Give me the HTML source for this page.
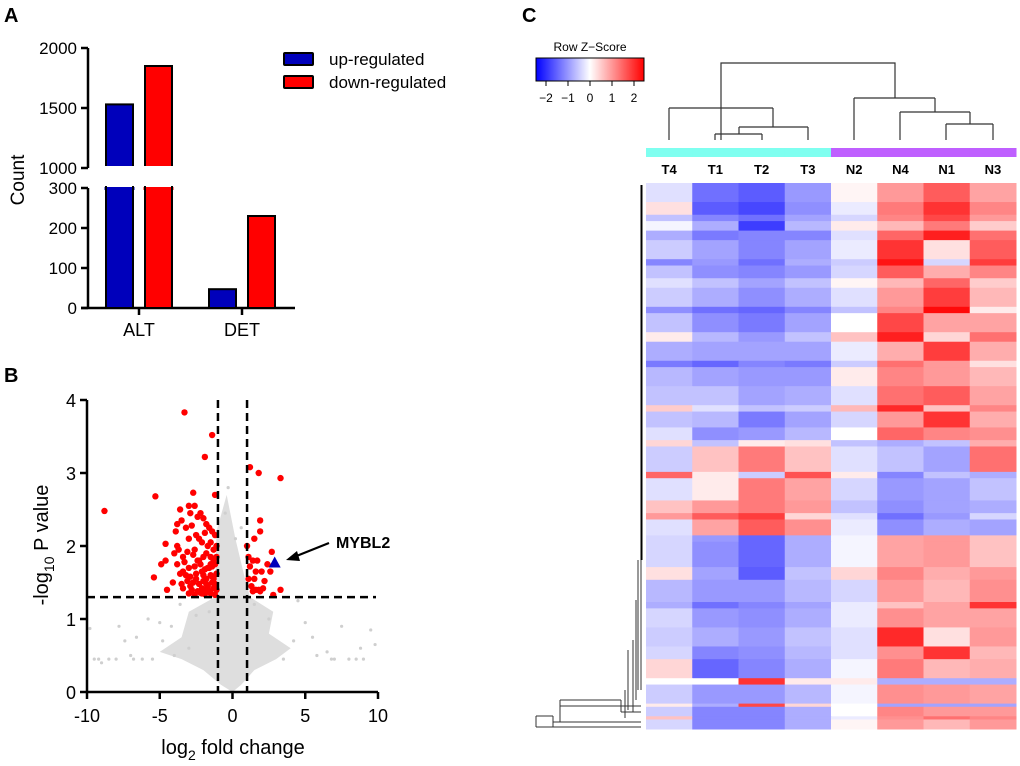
<!DOCTYPE html>
<html><head><meta charset="utf-8"><style>
body{margin:0;background:#fff;}
svg{display:block;font-family:"Liberation Sans",Arial,sans-serif;}
</style></head><body>
<svg id="fig" width="1020" height="766" viewBox="0 0 1020 766">
<g id="A"></g>
<g id="B"></g>
<g id="C"></g>
</svg>
<script>
// ---------- Panel A data ----------
const barCategories = ["ALT", "DET"];
const upValues = [1530, 47];
const downValues = [1850, 230];
const upperTicks = [1000, 1500, 2000];
const lowerTicks = [0, 100, 200, 300];

// ---------- Panel B data ----------
const xTicks = [-10, -5, 0, 5, 10];
const yTicks = [0, 1, 2, 3, 4];
const fcThresholds = [-1, 1];
const pThreshold = 1.3;
const redX = [-8.8,-3.3,-1.4,-1.9,-5.3,-2.7,-1.2,1.2,1.8,3.3,1.9,1.9,1.5,1.0,2.7,2.4,1.1,1.4,1.7,1.2,1.6,2.0,2.6,1.1,1.5,2.2,1.3,1.6,1.8,2.1,3.3,1.4,2.8,1.9,
 -5.4,-4.9,-4.6,-4.6,-4.5,-3.8,-3.6,-3.0,-2.9,-2.6,-2.4,-2.2,-2.0,-1.8,-1.6,-1.4,-1.2,
 -3.9,-3.5,-3.2,-2.8,-2.5,-2.3,-2.1,-1.9,-1.7,-1.5,-1.3,-1.1,
 -4.0,-3.7,-3.4,-3.1,-2.7,-2.4,-2.0,-1.8,-1.5,-1.3,-1.1,
 -3.8,-3.3,-3.0,-2.6,-2.2,-1.9,-1.6,-1.4,-1.2,
 -3.6,-3.2,-2.9,-2.5,-2.1,-1.8,-1.5,-1.3,-1.1,
 -4.1,-3.5,-3.1,-2.7,-2.3,-2.0,-1.7,-1.4,-1.2,
 -3.4,-2.8,-2.4,-2.1,-1.8,-1.6,-1.3,-1.1,
 -3.0,-2.6,-2.2,-1.9,-1.5,-1.2,
 -3.8,-3.4,-3.0,-2.6,-2.3,-2.0,-1.7,-1.5,-1.3,-1.1,
 -2.9,-2.5,-2.1,-1.8,-1.6,-1.4,-1.2];
const redY = [2.48,3.83,3.52,3.22,2.68,2.73,2.70,3.08,3.00,2.93,2.35,2.20,2.10,2.00,1.92,1.75,1.85,1.80,1.80,1.72,1.65,1.65,1.65,1.55,1.55,1.52,1.45,1.40,1.40,1.42,1.40,1.38,1.33,1.38,
 1.57,1.75,1.80,2.03,1.40,2.30,2.50,2.55,2.45,2.55,2.40,2.45,2.38,2.30,2.25,2.20,2.15,
 2.20,2.35,2.25,2.28,2.15,2.10,2.05,2.18,2.00,2.05,1.95,2.00,
 1.90,1.95,1.85,1.92,1.88,1.80,1.85,1.90,1.85,1.80,1.85,
 1.75,1.78,1.70,1.72,1.75,1.68,1.70,1.72,1.75,
 1.62,1.60,1.58,1.62,1.65,1.55,1.60,1.58,1.62,
 1.50,1.48,1.52,1.50,1.48,1.52,1.45,1.50,1.48,
 1.42,1.40,1.38,1.42,1.40,1.38,1.42,1.40,
 1.35,1.33,1.36,1.34,1.35,1.33,
 2.00,1.65,2.10,1.95,1.80,1.60,1.70,1.75,1.55,1.62,
 1.45,1.55,1.35,1.48,1.38,1.58,1.45];
const grayEnvX = [0,-0.8,-2,-3.5,-5,-3.5,-3,-1.2,-1.1,-0.4,0.2,0.8,1.2,2.8,2.5,4,3,1.5,0.6];
const grayEnvY = [0,0.1,0.3,0.45,0.55,0.75,1.1,1.3,2.2,2.7,2.1,1.6,1.3,1.1,0.8,0.6,0.45,0.3,0.1];
const grayX = [-9.8,-9.5,-9.2,-8.5,-7.8,-7,-6.2,-5.5,-5,-4.8,-4.2,-3.6,-6.6,-5.8,-9,7,7.5,8,8.5,9,9.5,9.8,6.5,5.5,5,4.5,8.8,-0.5,0.6,-0.3,0.2,1.5,-1.6,2.5,-2.5,-6.8,-4,-3,3.5,4.2,5.8,6.8,-8,-7.4];
const grayY = [0.87,0.45,0.45,0.45,0.9,0.5,0.45,0.45,0.95,0.7,0.9,1.2,0.75,1.0,0.4,0.45,0.9,0.45,0.45,0.45,0.85,0.65,0.55,0.75,0.95,1.25,0.6,2.45,2.25,2.8,2.1,1.2,1.1,1.0,1.05,0.45,0.5,0.6,0.45,0.7,0.5,0.45,0.45,0.7];
const mybl2 = {label: "MYBL2", x: 2.9, y: 1.76};

// ---------- Panel C data ----------
const sampleLabels = ["T4","T1","T2","T3","N2","N4","N1","N3"];
const groupColors = ["#7ffff0","#7ffff0","#7ffff0","#7ffff0","#bf5fff","#bf5fff","#bf5fff","#bf5fff"];
const colorbarTicks = [-2,-1,0,1,2];
const segRowCounts = [6,4,2,3,3,6,2,4,3,6,2,6,3,6,2,6,6,2,5,4,2,8,2,7,4,2,5,2,8,4,7,2,6,6,4,6,2,6,1,3,1,3];
const segZ = [
 [-0.3,-1.4,-1.6,-1.0,0.1,1.0,1.6,0.9],
 [0.3,-1.6,-1.8,-1.1,-0.2,1.3,2.0,1.2],
 [-0.6,-1.2,-1.4,-0.9,-0.4,1.2,1.8,1.0],
 [-0.1,-0.8,-1.9,-0.7,0.2,0.7,1.3,0.5],
 [-0.8,-1.3,-1.2,-1.2,-0.3,1.5,2.2,1.4],
 [-0.5,-0.9,-1.2,-0.9,-0.2,2.0,0.3,1.6],
 [-1.2,-1.0,-1.4,-0.8,-0.5,2.3,-0.4,1.9],
 [-0.6,-1.1,-1.2,-1.0,-0.4,1.6,0.8,1.2],
 [-0.3,-0.6,-0.9,-0.6,0.1,0.7,1.5,0.5],
 [-0.5,-0.8,-1.1,-0.8,-0.3,1.0,1.9,0.7],
 [-1.1,-1.4,-1.5,-1.2,-0.6,1.2,2.4,0.2],
 [-0.6,-1.1,-1.3,-0.9,0.0,1.8,0.9,0.9],
 [0.2,-0.7,-1.0,-0.6,0.6,2.2,0.4,1.4],
 [-0.8,-0.9,-0.9,-0.9,-0.2,0.8,1.9,0.8],
 [-1.3,-1.5,-1.2,-1.3,-0.5,1.4,1.0,0.3],
 [-0.7,-0.9,-1.0,-1.0,0.2,1.2,1.0,0.7],
 [-0.6,-0.6,-0.9,-0.8,-0.3,1.4,1.6,0.9],
 [0.5,-0.3,-0.6,-0.5,0.7,2.1,0.6,1.2],
 [-0.6,-0.7,-1.3,-0.9,-0.4,1.0,2.0,0.8],
 [-0.3,-1.1,-1.0,-0.7,0.0,1.5,1.2,1.1],
 [0.4,-0.6,0.2,0.3,-0.6,-0.8,-0.6,0.8],
 [-0.5,0.6,1.3,0.6,-0.3,-0.6,-0.9,1.4],
 [1.5,0.2,-0.5,1.7,0.2,-1.2,-0.6,-0.8],
 [-0.3,0.2,1.3,0.9,-0.4,-1.0,-0.9,-0.6],
 [0.6,1.0,1.3,1.0,-0.6,-1.1,-0.9,-0.8],
 [1.0,1.6,1.9,0.4,-0.3,-1.4,-1.0,-0.4],
 [-0.3,0.9,1.6,1.1,-0.2,-1.1,-0.8,-0.9],
 [-0.4,-1.0,-1.5,-0.8,-0.1,0.9,1.0,0.6],
 [-0.4,-1.1,-1.5,-0.8,-0.1,0.9,1.0,0.6],
 [0.3,-0.9,-1.6,-0.6,0.4,1.2,0.8,1.0],
 [-0.7,-1.0,-1.0,-0.7,-0.4,1.0,0.7,1.1],
 [-0.8,-1.4,-1.2,-0.9,-0.2,0.6,0.9,2.0],
 [-0.4,-1.0,-1.1,-0.8,-0.2,1.1,0.9,0.9],
 [-0.5,-0.8,-1.0,-0.6,-0.3,2.1,0.3,1.0],
 [-0.4,-1.2,-1.1,-0.7,-0.3,1.1,2.0,0.7],
 [0.4,-1.5,-1.2,-0.8,-0.1,1.3,0.7,0.8],
 [0.0,0.0,2.0,0.2,0.2,-0.8,-0.8,-0.8],
 [-0.5,-1.0,-1.0,-0.7,-0.1,1.1,1.0,0.9],
 [0.2,-0.8,1.8,0.4,0.0,-0.9,-0.9,-0.9],
 [-0.5,-1.2,-1.2,-0.8,0.0,1.2,1.0,1.0],
 [0.6,-1.2,-1.2,-0.8,-0.2,1.1,1.4,1.2],
 [-0.4,-1.2,-1.2,-0.8,0.1,1.0,0.7,1.0]
];

const NS="http://www.w3.org/2000/svg";
function mk(parent,tag,attrs,text){const e=document.createElementNS(NS,tag);for(const k in attrs)e.setAttribute(k,attrs[k]);if(text!==undefined)e.textContent=text;parent.appendChild(e);return e;}

// ===== Panel A =====
(function(){
 const g=document.getElementById('A');
 const t=mk(g,'text',{x:4,y:22,'font-size':20,'font-weight':'bold'},'A');
 
 
 const yUp=v=>168-(v-1000)*0.12;
 const yLo=v=>308-v*0.4;
 const ax=88;
 let l=mk(g,'line',{x1:ax,y1:48,x2:ax,y2:168,stroke:'#000','stroke-width':2.5});
 
 
 l=mk(g,'line',{x1:ax,y1:188,x2:ax,y2:308,stroke:'#000','stroke-width':2.5});
 
 
 l=mk(g,'line',{x1:81,y1:308,x2:295,y2:308,stroke:'#000','stroke-width':2.5});
 
 
 upperTicks.forEach(v=>{mk(g,'line',{x1:81,y1:yUp(v),x2:ax,y2:yUp(v),stroke:'#000','stroke-width':2.5});
  const tt=mk(g,'text',{x:77,y:yUp(v)+6,'font-size':17,'text-anchor':'end'},v);
  
  });
 lowerTicks.forEach(v=>{mk(g,'line',{x1:81,y1:yLo(v),x2:ax,y2:yLo(v),stroke:'#000','stroke-width':2.5});
  const tt=mk(g,'text',{x:77,y:yLo(v)+6,'font-size':17,'text-anchor':'end'},v);
  
  });
 const centers=[139,242];
 barCategories.forEach((c,i)=>{
  const cx=centers[i];
  [[upValues[i],'#0000bb',cx-33,'bar-up-'],[downValues[i],'#ff0000',cx+6,'bar-down-']].forEach(([v,col,x0,nm])=>{
   if(v>300){
    let r=mk(g,'rect',{x:x0,y:yUp(v),width:27,height:168-yUp(v),fill:col,stroke:'#000','stroke-width':2});
    
    
    mk(g,'rect',{x:x0-1.5,y:166,width:30,height:3,fill:'#fff'});
    r=mk(g,'rect',{x:x0,y:188,width:27,height:120,fill:col,stroke:'#000','stroke-width':2});
    
    
    mk(g,'rect',{x:x0-1.5,y:187,width:30,height:3,fill:col});
    mk(g,'line',{x1:x0,y1:186,x2:x0,y2:190,stroke:'#000','stroke-width':2});
    mk(g,'line',{x1:x0+27,y1:186,x2:x0+27,y2:190,stroke:'#000','stroke-width':2});
   } else {
    const r=mk(g,'rect',{x:x0,y:yLo(v),width:27,height:308-yLo(v),fill:col,stroke:'#000','stroke-width':2});
    
    
   }
  });
  mk(g,'line',{x1:cx,y1:308,x2:cx,y2:315,stroke:'#000','stroke-width':2.5});
  const tl=mk(g,'text',{x:cx,y:336,'font-size':18,'text-anchor':'middle'},c);
  
  
 });
 const yt=mk(g,'text',{x:0,y:0,'font-size':19,'text-anchor':'middle',transform:'translate(24,180) rotate(-90)'},'Count');
 
 
 [['#0000bb','up-regulated',53],['#ff0000','down-regulated',76]].forEach(([c,s,y])=>{
  const r=mk(g,'rect',{x:284,y:y,width:29,height:12,fill:c,stroke:'#000','stroke-width':2,rx:1});
  
  
  const tx=mk(g,'text',{x:329,y:y+12,'font-size':17},s);
  
  
 });
})();

// ===== Panel B =====
(function(){
 const g=document.getElementById('B');
 const t=mk(g,'text',{x:4,y:382,'font-size':20,'font-weight':'bold'},'B');
 
 
 const X=v=>87+(v+10)*14.55, Y=v=>692-v*73;
 const env=mk(g,'polygon',{points:grayEnvX.map((x,i)=>X(x)+','+Y(grayEnvY[i])).join(' '),fill:'#dedede'});
 
 
 grayX.forEach((x,i)=>{const c=mk(g,'circle',{cx:X(x),cy:Y(grayY[i]),r:1.6,fill:'#cfcfcf'});
  
  });
 redX.forEach((x,i)=>{const c=mk(g,'circle',{cx:X(x),cy:Y(redY[i]),r:3.2,fill:'#ff0000'});
  
  });
 fcThresholds.forEach(v=>{const l=mk(g,'line',{x1:X(v),y1:Y(4),x2:X(v),y2:Y(0),stroke:'#000','stroke-width':2.5,'stroke-dasharray':'8,5'});
  
  });
 let l=mk(g,'line',{x1:X(-10),y1:Y(pThreshold),x2:376,y2:Y(pThreshold),stroke:'#000','stroke-width':2.5,'stroke-dasharray':'8,5'});
 
 
 l=mk(g,'line',{x1:X(-10),y1:Y(4),x2:X(-10),y2:Y(0)+1,stroke:'#000','stroke-width':2.5});
 
 
 l=mk(g,'line',{x1:X(-10)-1,y1:Y(0),x2:X(10),y2:Y(0),stroke:'#000','stroke-width':2.5});
 
 
 yTicks.forEach(v=>{mk(g,'line',{x1:X(-10)-7,y1:Y(v),x2:X(-10),y2:Y(v),stroke:'#000','stroke-width':2.5});
  const tt=mk(g,'text',{x:X(-10)-11,y:Y(v)+7,'font-size':18,'text-anchor':'end'},v);
  
  });
 xTicks.forEach(v=>{mk(g,'line',{x1:X(v),y1:Y(0),x2:X(v),y2:Y(0)+7,stroke:'#000','stroke-width':2.5});
  const tt=mk(g,'text',{x:X(v),y:Y(0)+30,'font-size':18,'text-anchor':'middle'},v);
  
  });
 const tri=mk(g,'polygon',{points:`${X(mybl2.x)},${Y(mybl2.y)-7} ${X(mybl2.x)-6},${Y(mybl2.y)+4} ${X(mybl2.x)+6},${Y(mybl2.y)+4}`,fill:'#0000bb'});
 
 
 const ar=mk(g,'line',{x1:329,y1:543,x2:294,y2:557,stroke:'#000','stroke-width':2.2});
 
 
 mk(g,'polygon',{points:'286,560 297,551 300,561',fill:'#000'});
 const lb=mk(g,'text',{x:336,y:548,'font-size':16,'font-weight':'bold'},mybl2.label);
 
 
 const xt=mk(g,'text',{x:233,y:754,'font-size':20,'text-anchor':'middle'});
 
 
 xt.innerHTML='log<tspan dy="6" font-size="14">2</tspan><tspan dy="-6"> fold change</tspan>';
 const yt=mk(g,'text',{x:0,y:0,'font-size':20,'text-anchor':'middle',transform:'translate(48,545) rotate(-90)'});
 
 
 yt.innerHTML='-log<tspan dy="6" font-size="14">10</tspan><tspan dy="-6"> P value</tspan>';
})();

// ===== Panel C =====
(function(){
 const g=document.getElementById('C');
 const t=mk(g,'text',{x:522,y:22,'font-size':20,'font-weight':'bold'},'C');
 
 
 const color=z=>{let f=Math.max(-1,Math.min(1,z/2.5));
  if(f<0){const a=Math.round(255*(1+f));return `rgb(${a},${a},255)`;}
  const a=Math.round(255*(1-f));return `rgb(255,${a},${a})`;};
 const defs=mk(g,'defs',{});
 const lg=mk(defs,'linearGradient',{id:'zg',x1:0,x2:1,y1:0,y2:0});
 [[0,-2.5],[0.25,-1.25],[0.5,0],[0.75,1.25],[1,2.5]].forEach(([o,z])=>mk(lg,'stop',{offset:o,'stop-color':color(z)}));
 const cb=mk(g,'rect',{x:536,y:58,width:108,height:23,fill:'url(#zg)',stroke:'#000','stroke-width':1});
 
 
 const ct=mk(g,'text',{x:590,y:51,'font-size':12,'text-anchor':'middle'},'Row Z\u2212Score');
 
 
 colorbarTicks.forEach(v=>{const x=590+v*22;mk(g,'line',{x1:x,y1:81,x2:x,y2:86,stroke:'#000'});
  const tt=mk(g,'text',{x:x,y:102,'font-size':12,'text-anchor':'middle'},v<0?'\u2212'+(-v):v);
  
  });
 const dp='M721,140 V108 M669,108 H773 M669,108 V140 M773,108 V127 M739,127 H808 M808,127 V140 M739,127 V134 M715,134 H762 M715,134 V140 M762,134 V140 M721,108 V63 H895 V98 M854,98 H935 M854,98 V140 M935,98 V112 M900,112 H970 M900,112 V140 M970,112 V124 M946,124 H993 M946,124 V140 M993,124 V140';
 const dd=mk(g,'path',{d:dp,fill:'none',stroke:'#333','stroke-width':1.2});
 
 
 const x0=646,cw=(1016-646)/8;
 sampleLabels.forEach((s,i)=>{
  const r=mk(g,'rect',{x:x0+i*cw,y:148,width:cw+0.5,height:9,fill:groupColors[i]});
  
  
  const tt=mk(g,'text',{x:x0+i*cw+cw/2,y:174,'font-size':13,'font-weight':'bold','text-anchor':'middle'},s);
  
  
 });
 const total=segRowCounts.reduce((a,b)=>a+b,0);
 const rh=(729-183)/total;
 let row=0;
 segZ.forEach((zs,si)=>{
  const y=183+row*rh, h=segRowCounts[si]*rh;
  zs.forEach((z,ci)=>{
   const r=mk(g,'rect',{x:x0+ci*cw,y:y,width:cw+0.5,height:h+0.5,fill:color(z)});
   
   
  });
  row+=segRowCounts[si];
 });
 const rp='M641,185 V690 M638,560 V690 M636,600 V700 M633,640 V712 M628,650 V710 M625,690 V718 M621,700 V712 M560,700 H621 M560,700 V722 M553,716 V727 M536,716 H553 M536,716 V727 M536,727 H641 M553,722 H641 M560,706 H641 M621,712 H641';
 const rd=mk(g,'path',{d:rp,fill:'none',stroke:'#333','stroke-width':1});
 
 
 const rl=mk(g,'line',{x1:641.5,y1:185,x2:641.5,y2:560,stroke:'#000','stroke-width':2});
 
 
})();
</script>
</body></html>
